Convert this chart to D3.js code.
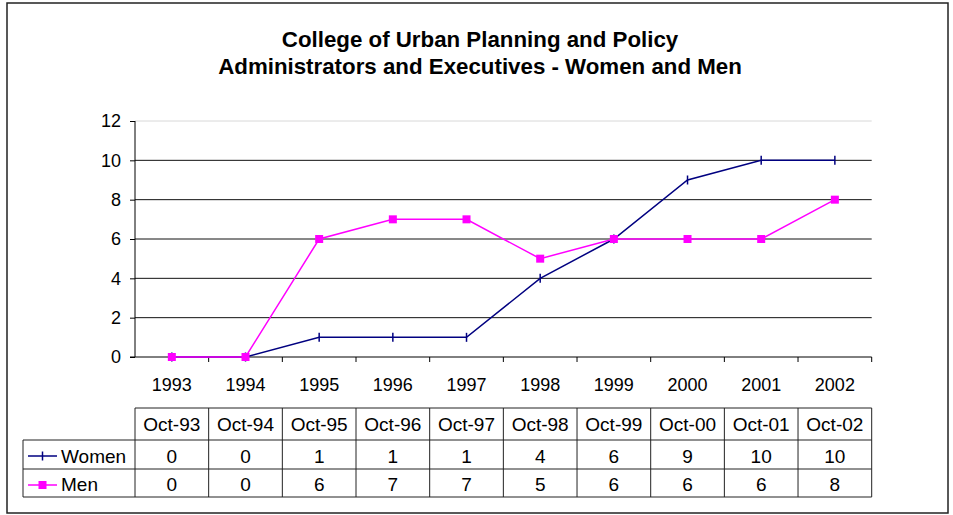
<!DOCTYPE html>
<html>
<head>
<meta charset="utf-8">
<script src="https://cdn.jsdelivr.net/npm/d3@7"></script>
<style>
body { margin: 0; background: #fff; }
svg { font-family: "Liberation Sans", Arial, sans-serif; }
</style>
</head>
<body>
<div id="chart"></div>
<script>
var years = ["1993", "1994", "1995", "1996", "1997", "1998", "1999", "2000", "2001", "2002"];
var dates = ["Oct-93", "Oct-94", "Oct-95", "Oct-96", "Oct-97", "Oct-98", "Oct-99", "Oct-00", "Oct-01", "Oct-02"];
var women = [0, 0, 1, 1, 1, 4, 6, 9, 10, 10];
var men = [0, 0, 6, 7, 7, 5, 6, 6, 6, 8];
var yTicks = [0, 2, 4, 6, 8, 10, 12];
var titleLines = ["College of Urban Planning and Policy", "Administrators and Executives - Women and Men"];

var W = 953, H = 515;
var plotLeft = 135, plotRight = 871.7, plotTop = 121, plotBottom = 357;

var svg = d3.select("#chart").append("svg")
    .attr("width", W)
    .attr("height", H);

// outer border
svg.append("rect")
    .attr("x", 7).attr("y", 3)
    .attr("width", 941).attr("height", 510)
    .attr("fill", "none")
    .attr("stroke", "#222")
    .attr("stroke-width", 1.5);

// title
svg.selectAll("text.title")
    .data(titleLines)
    .enter()
    .append("text")
    .attr("class", "title")
    .attr("x", 480)
    .attr("y", function(d, i) { return 47 + i * 27; })
    .attr("text-anchor", "middle")
    .attr("font-size", "22.3px")
    .attr("font-weight", "bold")
    .text(function(d) { return d; });

var x = d3.scaleBand().domain(years).range([plotLeft, plotRight]).padding(0);
var y = d3.scaleLinear().domain([0, 12]).range([plotBottom, plotTop]);

// gridlines
svg.selectAll("line.grid")
    .data(yTicks.filter(function(d) { return d > 0; }))
    .enter()
    .append("line")
    .attr("class", "grid")
    .attr("x1", plotLeft).attr("x2", plotRight)
    .attr("y1", function(d) { return y(d); })
    .attr("y2", function(d) { return y(d); })
    .attr("stroke", function(d) { return d == 12 ? "#d8d8d8" : "#111"; })
    .attr("stroke-width", 1);

// y axis
var yAxis = svg.append("g")
    .attr("transform", "translate(" + plotLeft + ",0)")
    .call(d3.axisLeft(y).tickValues(yTicks).tickSize(5).tickPadding(9).tickFormat(d3.format("d")));
yAxis.selectAll("text").attr("font-size", "18px").attr("fill", "#000").attr("font-family", "Liberation Sans, Arial, sans-serif");
yAxis.selectAll("line").attr("stroke", "#000");
yAxis.select(".domain").attr("stroke", "#000").attr("d", "M0," + plotBottom + "V" + plotTop);

// x axis (labels at centres, ticks at boundaries)
var xAxis = svg.append("g")
    .attr("transform", "translate(0," + plotBottom + ")")
    .call(d3.axisBottom(x).tickSize(0).tickPadding(21));
xAxis.selectAll("text").attr("font-size", "18px").attr("fill", "#000").attr("font-family", "Liberation Sans, Arial, sans-serif");
xAxis.select(".domain").attr("stroke", "#000").attr("d", "M" + (plotLeft - 5) + ",0H" + plotRight);

var bounds = years.map(function(d) { return x(d); }).concat([plotRight]);
svg.selectAll("line.xtick")
    .data(bounds.slice(1))
    .enter()
    .append("line")
    .attr("class", "xtick")
    .attr("x1", function(d) { return d; }).attr("x2", function(d) { return d; })
    .attr("y1", plotBottom).attr("y2", plotBottom + 5)
    .attr("stroke", "#000");

function cx(i) { return x(years[i]) + x.bandwidth() / 2; }

var line = d3.line()
    .x(function(d, i) { return cx(i); })
    .y(function(d) { return y(d); });

// Women
svg.append("path")
    .datum(women)
    .attr("d", line)
    .attr("fill", "none")
    .attr("stroke", "#000080")
    .attr("stroke-width", 1.5);
svg.selectAll("line.wmark")
    .data(women)
    .enter()
    .append("line")
    .attr("class", "wmark")
    .attr("x1", function(d, i) { return cx(i); })
    .attr("x2", function(d, i) { return cx(i); })
    .attr("y1", function(d) { return y(d) - 4.5; })
    .attr("y2", function(d) { return y(d) + 4.5; })
    .attr("stroke", "#000080")
    .attr("stroke-width", 1.5);

// Men
svg.append("path")
    .datum(men)
    .attr("d", line)
    .attr("fill", "none")
    .attr("stroke", "#ff00ff")
    .attr("stroke-width", 1.5);
svg.selectAll("rect.mmark")
    .data(men)
    .enter()
    .append("rect")
    .attr("class", "mmark")
    .attr("x", function(d, i) { return cx(i) - 4; })
    .attr("y", function(d) { return y(d) - 4; })
    .attr("width", 8).attr("height", 8)
    .attr("fill", "#ff00ff");

// data table
var rows = [408, 440, 469, 497];
var legLeft = 23;
var tbl = svg.append("g").attr("stroke", "#222").attr("stroke-width", 1);

// horizontal lines
tbl.append("line").attr("x1", plotLeft).attr("x2", plotRight).attr("y1", rows[0]).attr("y2", rows[0]);
[1, 2, 3].forEach(function(r) {
    tbl.append("line").attr("x1", legLeft).attr("x2", plotRight).attr("y1", rows[r]).attr("y2", rows[r]);
});
// vertical lines
tbl.append("line").attr("x1", legLeft).attr("x2", legLeft).attr("y1", rows[1]).attr("y2", rows[3]);
bounds.forEach(function(b) {
    tbl.append("line").attr("x1", b).attr("x2", b).attr("y1", rows[0]).attr("y2", rows[3]);
});

function cellText(vals, baseline) {
    svg.append("g").selectAll("text")
        .data(vals)
        .enter()
        .append("text")
        .attr("x", function(d, i) { return cx(i); })
        .attr("y", baseline)
        .attr("text-anchor", "middle")
        .attr("font-size", "19px")
        .text(function(d) { return d; });
}
cellText(dates, 431);
cellText(women, 463);
cellText(men, 491);

// legend keys in table
var leg = svg.append("g");
leg.append("line").attr("x1", 28).attr("x2", 57).attr("y1", 456).attr("y2", 456)
    .attr("stroke", "#000080").attr("stroke-width", 1.5);
leg.append("line").attr("x1", 42.5).attr("x2", 42.5).attr("y1", 451.5).attr("y2", 460.5)
    .attr("stroke", "#000080").attr("stroke-width", 1.5);
leg.append("text").attr("x", 61).attr("y", 463).attr("font-size", "19px").text("Women");

leg.append("line").attr("x1", 28).attr("x2", 57).attr("y1", 485).attr("y2", 485)
    .attr("stroke", "#ff00ff").attr("stroke-width", 1.5);
leg.append("rect").attr("x", 38.5).attr("y", 481).attr("width", 8).attr("height", 8).attr("fill", "#ff00ff");
leg.append("text").attr("x", 61).attr("y", 491).attr("font-size", "19px").text("Men");
</script>
</body>
</html>
